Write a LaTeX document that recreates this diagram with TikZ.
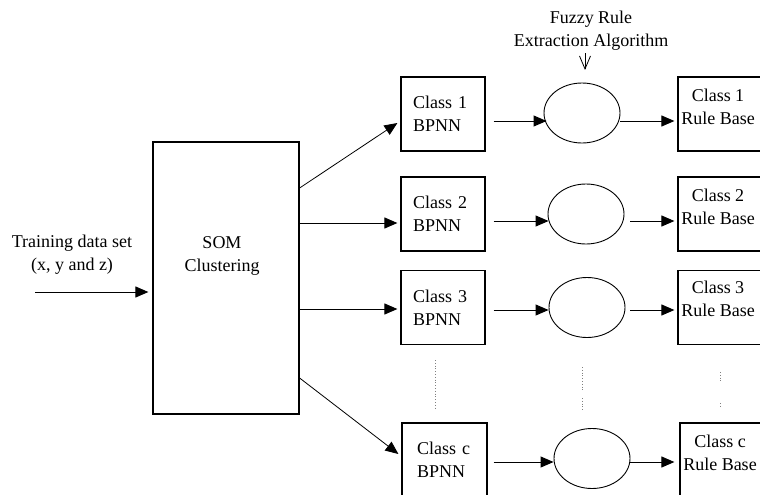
\documentclass[tikz,border=0pt]{standalone}
\usepackage{fontspec}
\setmainfont{Liberation Serif}
\usetikzlibrary{arrows.meta,shapes.geometric,calc}
\begin{document}
\begin{tikzpicture}[x=1pt,y=-1pt,
  every node/.style={font=\fontsize{18}{23}\selectfont,inner sep=0pt},
  box/.style={draw,line width=1.2pt,minimum width=84pt,minimum height=74pt},
  bpnn/.style={box,align=left,text width=60pt,inner xsep=12pt},
  ell/.style={draw,ellipse,line width=0.9pt,minimum width=76pt,minimum height=60pt},
  lbl/.style={align=center},
  arr/.style={line width=1pt,-{Triangle[length=13pt,width=11pt]}},
  thin arr/.style={line width=0.8pt,-{Triangle[length=13pt,width=11pt]}},
  barb/.style={line width=0.8pt,-{Straight Barb[length=13pt,width=11pt]}},
  dots/.style={line width=0.8pt,gray,dotted}
]
\useasboundingbox (0,0) rectangle (760,495);
\clip (0,0) rectangle (760,495);

% input
\node[lbl] (tr) at (72,255) {Training data set\\(x, y and z)};
\coordinate (in) at (35,292);
\node[box,minimum width=146pt,minimum height=272pt] (som) at (226,278) {};
\node[lbl] (somt) at (222,256) {SOM\\Clustering};
\draw[arr] (in) -- ($(som.west)+(-4,14)$);

% BPNN boxes
\node[bpnn] (b1) at (443,114) {Class 1\\BPNN};
\node[bpnn] (b2) at (443,214) {Class 2\\BPNN};
\node[bpnn] (b3) at (443,307.5) {Class 3\\BPNN};
\node[bpnn,text width=55pt,inner xsep=15pt,minimum width=85pt] (bc) at (444.5,460) {Class c\\BPNN};

% ellipses
\node[ell] (e1) at (582,113) {};
\node[ell] (e2) at (586,214) {};
\node[ell] (e3) at (587,307.5) {};
\node[ell] (ec) at (592,458.5) {};

% rule base boxes
\node[box] (r1) at (720,114) {};
\node[box] (r2) at (720,214) {};
\node[box] (r3) at (720,307.5) {};
\node[box] (rc) at (722,460) {};
\node[lbl] (r1t) at (718,107) {Class 1\\Rule Base};
\node[lbl] (r2t) at (718,207) {Class 2\\Rule Base};
\node[lbl] (r3t) at (718,299) {Class 3\\Rule Base};
\node[lbl] (rct) at (720,453) {Class c\\Rule Base};

% fuzzy rule label
\node[lbl] (f) at (591,30.5) {Fuzzy Rule\\Extraction Algorithm};
\coordinate (fa) at (585,70);
\draw[barb] ($(f.south -| fa)+(0,3)$) -- (fa);

% SOM -> BPNN
\draw[thin arr] ($(som.east)+(0,-90)$) -- ($(b1.west)+(-3,9)$);
\draw[arr] ($(som.east)+(0,-55)$) -- ($(b2.west)+(-3,9)$);
\draw[arr] ($(som.east)+(0,31)$) -- ($(b3.west)+(-3,1.5)$);
\draw[thin arr] ($(som.east)+(0,100)$) -- ($(bc.west)+(-3,-6)$);

% BPNN -> ellipse
\draw[arr] ($(b1.east)+(8,7)$) -- ($(e1.west)+(3,8)$);
\draw[arr] ($(b2.east)+(8,7)$) -- ($(e2.west)+(1,7)$);
\draw[arr] ($(b3.east)+(8,2.5)$) -- ($(e3.west)+(0,2.5)$);
\draw[arr] ($(bc.east)+(6,2)$) -- ($(ec.west)+(0,3.5)$);

% ellipse -> rule base
\draw[arr] ($(e1.east)+(0,8)$) -- ($(r1.west)+(-3,7)$);
\draw[arr] ($(e2.east)+(6,7)$) -- ($(r2.west)+(-3,7)$);
\draw[arr] ($(e3.east)+(5,2.5)$) -- ($(r3.west)+(-3,2.5)$);
\draw[arr] ($(ec.east)+(0,3.5)$) -- ($(rc.west)+(-5,2)$);

% dotted continuation marks
\draw[dots] (435,360) -- (435,410);
\draw[dots] (582,367) -- (582,390);
\draw[dots] (582,398) -- (582,410);
\draw[dots] (720,372) -- (720,383);
\draw[dots] (720,403) -- (720,408);
\end{tikzpicture}
\end{document}
